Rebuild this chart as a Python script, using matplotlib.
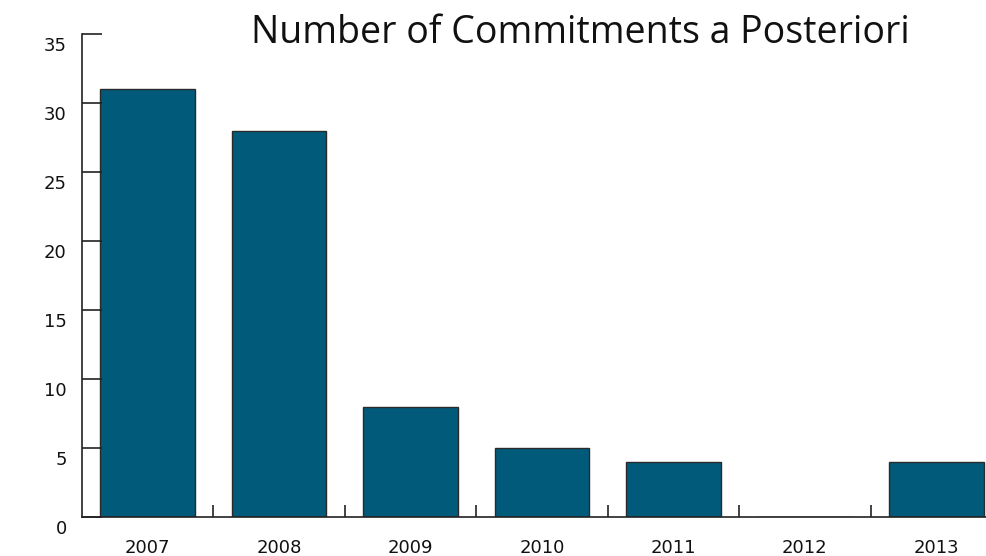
import matplotlib
matplotlib.use("Agg")
import matplotlib.pyplot as plt
import matplotlib.transforms as mtransforms
import numpy as np

years = ["2007", "2008", "2009", "2010", "2011", "2012", "2013"]
commitments = [31, 28, 8, 5, 4, 0, 4]

bar_color = "#025a7a"

fig = plt.figure(figsize=(9.86, 5.56), dpi=100)
ax = fig.add_axes([82 / 986, 39 / 556, 920 / 986, 483 / 556])

x = np.arange(len(years))
ax.bar(x, commitments, width=0.72, color=bar_color, edgecolor="#2a2a2a", linewidth=1)

ax.set_xlim(-0.5, len(years) - 0.5)
ax.set_ylim(0, 35)
ax.set_yticks(range(0, 36, 5))

# ticks sit between the categories, labels under the bars
ax.set_xticks(x[:-1] + 0.5)
ax.set_xticklabels([])
ax.set_xticks(x, minor=True)
ax.set_xticklabels(years, minor=True)
ax.tick_params(axis="x", which="major", direction="in", length=9, width=1.2, color="#222222")
ax.tick_params(axis="x", which="minor", length=0, pad=16, labelsize=13)
ax.tick_params(axis="y", direction="in", length=14.5, width=1.2, color="#222222",
               pad=11, labelsize=13)

# y labels sit a little below their ticks in the original
shift = mtransforms.ScaledTranslation(0, -7 / 72, fig.dpi_scale_trans)
for lbl in ax.get_yticklabels():
    lbl.set_transform(lbl.get_transform() + shift)

for lbl in ax.get_xticklabels(minor=True) + ax.get_yticklabels():
    lbl.set_family("DejaVu Sans")
    lbl.set_color("#111111")

for side in ["top", "right"]:
    ax.spines[side].set_visible(False)
for side in ["left", "bottom"]:
    ax.spines[side].set_linewidth(1.2)
    ax.spines[side].set_color("#222222")

fig.text(580 / 986, 1 - 43 / 556, "Number of Commitments a Posteriori",
         ha="center", va="baseline", fontsize=27, family="Open Sans", color="#111111")

fig.savefig("out.png", dpi=100)
